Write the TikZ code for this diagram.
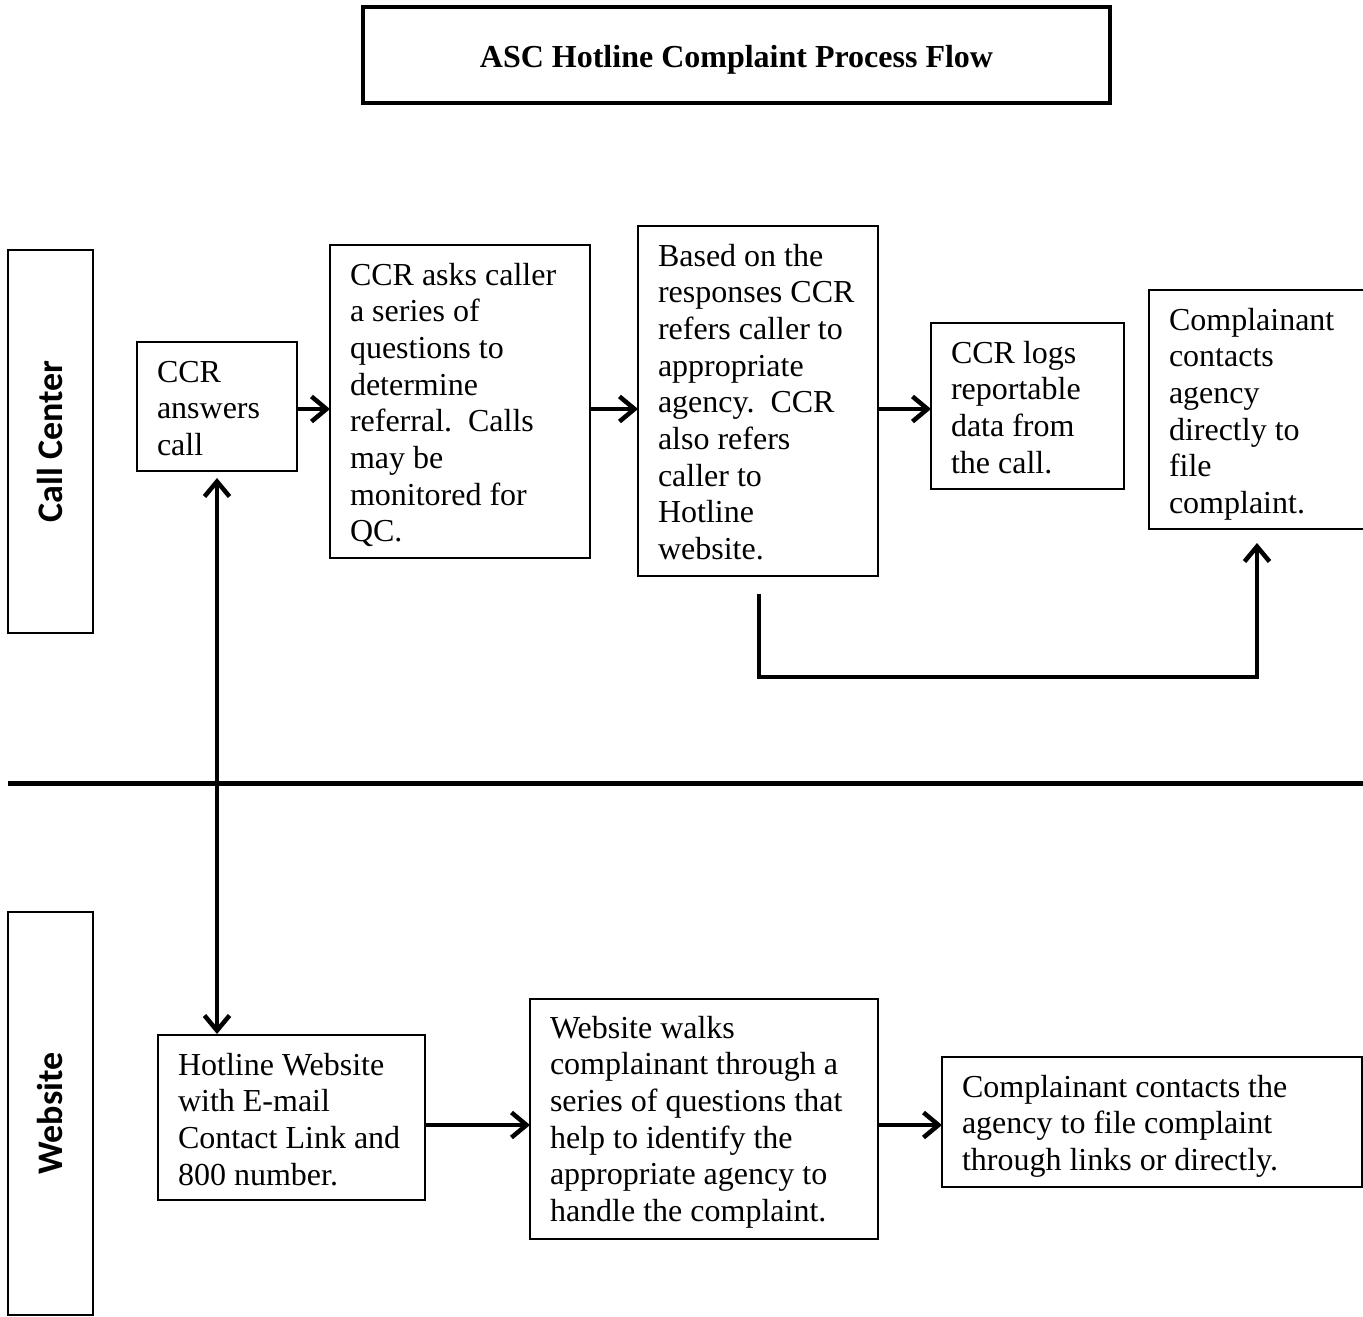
\documentclass[tikz,border=0pt]{standalone}
\usepackage{fontspec}
\setmainfont{Liberation Serif}
\newfontfamily\lanefont{Carlito}
\usetikzlibrary{arrows.meta}
\newcommand\boxtxt[4]{\parbox[c][#2pt][t]{#1pt}{\raggedright\leftskip=20pt\rule{0pt}{#3pt}#4}}
\begin{document}
\begin{tikzpicture}[x=1pt,y=-1pt,
  box/.style={draw, line width=2pt, inner sep=0pt, outer sep=0pt, anchor=north west,
    font=\fontsize{32}{36.7}\selectfont},
  titlebox/.style={draw, line width=4pt, inner sep=0pt, minimum width=747pt, minimum height=96pt,
    font=\fontsize{32}{36}\selectfont\bfseries},
  lane/.style={draw, line width=2pt, inner sep=0pt, rotate=90, minimum height=85pt,
    font=\fontsize{36}{40}\selectfont\lanefont\bfseries},
  tip/.tip={Straight Barb[length=15pt,width=25pt,line width=4.5pt]},
  arr/.style={line width=3.5pt, -tip},
  biarr/.style={line width=4pt, tip-tip},
  divider/.style={line width=5pt}
]
\useasboundingbox (0,0) rectangle (1363,1317);

% title
\node[titlebox] (T) at (736.5,55) {\raisebox{-12pt}[0pt][0pt]{ASC Hotline Complaint Process Flow}};

% lanes
\node[lane, minimum width=383pt] (L1) at (50.5,441.5) {Call Center};
\node[lane, minimum width=403pt] (L2) at (50.5,1113.5) {Website};

% divider
\draw[divider] (8,783) -- (1363,783);

% call center boxes
\node[box] (A) at (137,342) {\boxtxt{160}{129}{40}{CCR\\answers\\call}};
\node[box] (B) at (330,245) {\boxtxt{260}{313}{40}{CCR asks caller\\a series of\\questions to\\determine\\referral.\ \ Calls\\may be\\monitored for\\QC.}};
\node[box] (C) at (638,226) {\boxtxt{240}{350}{40}{Based on the\\responses CCR\\refers caller to\\appropriate\\agency.\ \ CCR\\also refers\\caller to\\Hotline\\website.}};
\node[box] (D) at (931,323) {\boxtxt{193}{166}{40}{CCR logs\\reportable\\data from\\the call.}};
\node[box] (E) at (1149,290) {\boxtxt{225}{239}{40}{Complainant\\contacts\\agency\\directly to\\file\\complaint.}};

% website boxes
\node[box] (F) at (158,1035) {\boxtxt{267}{165}{40}{Hotline Website\\with E-mail\\Contact Link and\\800 number.}};
\node[box] (G) at (530,999) {\boxtxt{348}{240}{39}{Website walks\\complainant through a\\series of questions that\\help to identify the\\appropriate agency to\\handle the complaint.}};
\node[box] (H) at (942,1057) {\boxtxt{420}{130}{40}{Complainant contacts the\\agency to file complaint\\through links or directly.}};

% connectors
\coordinate (rowC) at (0,409);
\coordinate (rowW) at (0,1125);
\draw[arr] (A.east |- rowC) -- (B.west |- rowC);
\draw[arr] (B.east |- rowC) -- (C.west |- rowC);
\draw[arr] (C.east |- rowC) -- (D.west |- rowC);
\draw[arr] (F.east |- rowW) -- (G.west |- rowW);
\draw[arr] (G.east |- rowW) -- (H.west |- rowW);

\draw[biarr, shorten <=7pt, shorten >=1pt] (A.south) -- (A.south |- F.north);

\coordinate (cs) at (759,594);
\coordinate (cc) at (1257,677);
\draw[arr, line join=miter, shorten >=14pt] (cs) |- (cc) -- (cc |- E.south);
\end{tikzpicture}
\end{document}
